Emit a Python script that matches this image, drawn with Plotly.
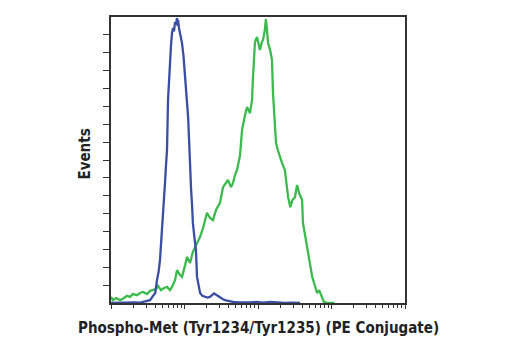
import plotly.graph_objects as go

# Blue histogram (fluorescence intensity, events)
blue_x = [1.0, 1.3, 1.7, 2.1, 2.5, 2.72, 3.05, 3.40, 3.73, 4.0, 4.22, 4.45, 4.64, 4.85, 5.10, 5.25, 5.43, 5.60, 5.78,
          5.97, 6.15, 6.35, 6.55, 6.76, 6.98, 7.2, 7.43, 7.65, 7.91, 8.05, 8.16, 8.4, 8.68, 8.95, 9.25, 9.7, 10.2,
          10.5, 10.8, 11.2, 11.5, 11.9, 12.3, 12.7, 13.0, 13.7, 14.3, 14.8, 15.5, 16.3, 17.5, 19.0, 20.5, 22.2,
          24.0, 25.2, 26.0, 28.0, 30.4, 33.0, 35.6, 40.0, 45.7, 55.0, 65.0, 77.8, 95.0, 120.0, 146.0, 180.0,
          230.0, 300.0, 373.0]
blue_y = [0, 1, 0, 2, 1, 3, 4, 8, 20, 28, 64, 88, 120, 175, 240, 290, 336, 385, 428,
          568, 630, 680, 720, 755, 769, 760, 786, 780, 797, 775, 792, 770, 755, 740, 727, 690, 632,
          600, 559, 520, 464, 372, 316, 270, 224, 180, 148, 73, 45, 28, 20, 17, 15, 17,
          22, 27, 25, 20, 14, 11, 8, 5, 3, 2, 1, 2, 3, 1, 3, 1, 0, 1, 0]

# Green histogram
green_x = [1.0, 1.06, 1.17, 1.33, 1.50, 1.65, 1.81, 1.99, 2.26, 2.48, 2.72, 3.09, 3.40, 3.73, 4.10, 4.36, 4.79,
           5.26, 5.78, 6.35, 6.76, 7.43, 7.91, 8.68, 9.25, 10.2, 10.8, 11.9, 13.0, 14.0, 15.3, 16.3, 17.9,
           19.0, 20.2, 22.2, 24.4, 26.8, 28.6, 30.4, 33.4, 36.7, 39.0, 42.9, 45.7, 48.7, 51.9, 57.0, 60.7,
           66.6, 71.0, 77.8, 82.9, 85.5, 91.0, 97.0, 103, 106, 113, 117, 124, 128, 132, 137, 146, 155, 160,
           170, 176, 186, 199, 212, 232, 249, 257, 275, 294, 318, 340, 362, 398, 409, 437, 479, 512, 547,
           580, 636, 678, 718, 790, 898, 1100]
green_y = [17, 8, 14, 8, 14, 20, 17, 25, 22, 28, 31, 25, 34, 36, 39, 48, 36,
           42, 45, 36, 45, 64, 92, 78, 73, 106, 129, 112, 143, 157, 171, 185, 210,
           232, 252, 238, 232, 260, 271, 280, 324, 336, 344, 324, 336, 358, 372, 414, 484,
           526, 548, 531, 568, 632, 730, 744, 713, 708, 730, 736, 764, 794, 769, 727, 708, 680, 587,
           512, 447, 428, 408, 392, 372, 316, 296, 268, 288, 296, 330, 308, 288, 224, 190, 148, 115, 73,
           56, 28, 36, 25, 3, 0, 0]

x_major = [1, 10, 100, 1000, 10000]
x_minor = [m * d for d in [1, 10, 100, 1000] for m in range(2, 10)]
y_ticks = [50 * i for i in range(1, 16)]

FONT = "Liberation Sans Narrow, DejaVu Sans Condensed, Arial Narrow, sans-serif"

fig = go.Figure()
fig.add_trace(go.Scatter(x=green_x, y=green_y, mode="lines",
                         line=dict(color="#3dba4e", width=2.3), hoverinfo="skip"))
fig.add_trace(go.Scatter(x=blue_x, y=blue_y, mode="lines",
                         line=dict(color="#3a4ea3", width=2.3), hoverinfo="skip"))

fig.update_layout(
    width=520, height=350,
    margin=dict(l=111, r=115, t=17, b=47),
    plot_bgcolor="white", paper_bgcolor="white",
    showlegend=False,
    xaxis=dict(type="log", range=[0, 4], showgrid=False, zeroline=False,
               showline=True, linecolor="#333", linewidth=1.5, mirror=True,
               tickmode="array", tickvals=x_major, ticks="outside", ticklen=4,
               tickwidth=1, tickcolor="#333", showticklabels=False,
               minor=dict(tickmode="array", tickvals=x_minor, ticks="outside",
                          ticklen=3, tickwidth=1, tickcolor="#333")),
    yaxis=dict(range=[0, 800], showgrid=False, zeroline=False,
               showline=True, linecolor="#333", linewidth=1.5, mirror=True,
               tickmode="array", tickvals=y_ticks, ticks="outside", ticklen=6,
               tickwidth=1, tickcolor="#333", showticklabels=False),
    annotations=[
        dict(text="<b>Phospho-Met (Tyr1234/Tyr1235) (PE Conjugate)</b>", xref="paper", yref="paper",
             x=0.5, y=-0.05, xanchor="center", yanchor="top", showarrow=False,
             font=dict(family=FONT, size=15, color="#222")),
        dict(text="<b>Events</b>", xref="paper", yref="paper",
             x=-0.05, y=0.52, xanchor="right", yanchor="middle", textangle=-90, showarrow=False,
             font=dict(family=FONT, size=15, color="#222")),
    ],
)

fig.write_html("out.html")
